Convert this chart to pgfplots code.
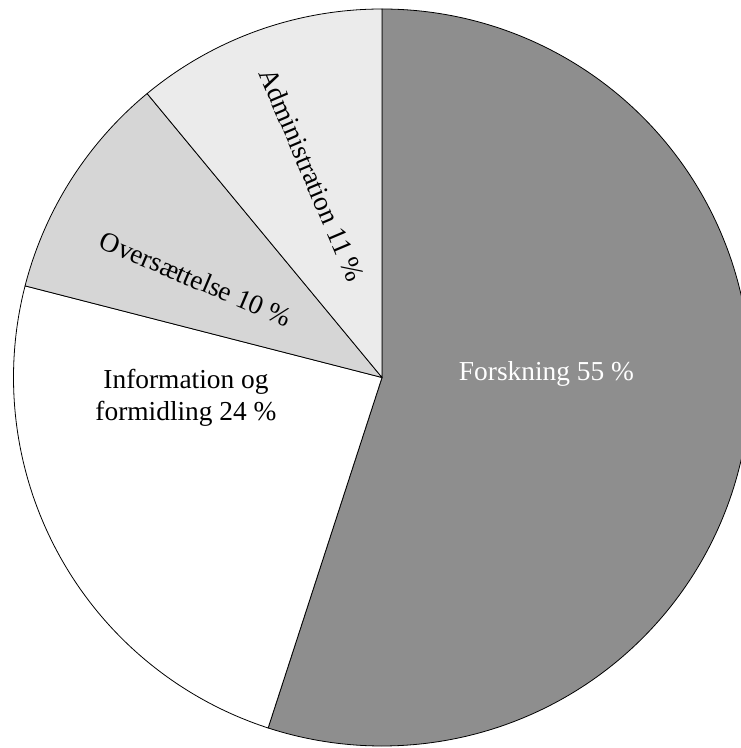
\documentclass[border=0pt]{standalone}
\usepackage{fontspec}
\setmainfont{Liberation Serif}
\usepackage{pgfplots}
\pgfplotsset{compat=1.18}

\definecolor{forsk}{RGB}{142,142,142}
\definecolor{overs}{RGB}{214,214,214}
\definecolor{admin}{RGB}{235,235,235}

% shares in percent, clockwise from 12 o'clock
\def\pForsk{55}
\def\pInfo{24}
\def\pOvers{10}
\def\pAdmin{11}

\begin{document}
\begin{tikzpicture}
\begin{axis}[
    width=741bp, height=748bp,
    scale only axis,
    hide axis,
    xmin=-1.0366, xmax=0.9742,
    ymin=-1.0054, ymax=1.0244,
    clip=true,
    every axis plot/.append style={draw=black, line width=0.8pt, line join=round},
    nodes={font=\fontsize{27.5}{32}\selectfont},
]
% angle a(s) = 90 - 3.6*s, s = cumulative share
\addplot[fill=forsk, domain={90-3.6*\pForsk}:90, samples=200, variable=\t]
    ({cos(t)},{sin(t)}) -- (axis cs:0,0) -- cycle;
\addplot[fill=white, domain={90-3.6*(\pForsk+\pInfo)}:{90-3.6*\pForsk}, samples=120, variable=\t]
    ({cos(t)},{sin(t)}) -- (axis cs:0,0) -- cycle;
\addplot[fill=overs, domain={90-3.6*(\pForsk+\pInfo+\pOvers)}:{90-3.6*(\pForsk+\pInfo)}, samples=60, variable=\t]
    ({cos(t)},{sin(t)}) -- (axis cs:0,0) -- cycle;
\addplot[fill=admin, domain={90-3.6*(\pForsk+\pInfo+\pOvers+\pAdmin)}:{90-3.6*(\pForsk+\pInfo+\pOvers)}, samples=60, variable=\t]
    ({cos(t)},{sin(t)}) -- (axis cs:0,0) -- cycle;

\node[anchor=base, text=white] at (axis cs:0.4464,-0.0068) {Forskning 55 \%};
\node[anchor=base, align=center] at (axis cs:-0.5319,-0.1172) {Information og\\formidling 24 \%};
\node[rotate=-23] at (axis cs:-0.5047,0.2673) {Oversættelse 10 \%};
\node[rotate=-67] at (axis cs:-0.19,0.5495) {Administration 11 \%};
\end{axis}
\pgfresetboundingbox
\useasboundingbox (current axis.south west) rectangle (current axis.north east);
\end{tikzpicture}
\end{document}
